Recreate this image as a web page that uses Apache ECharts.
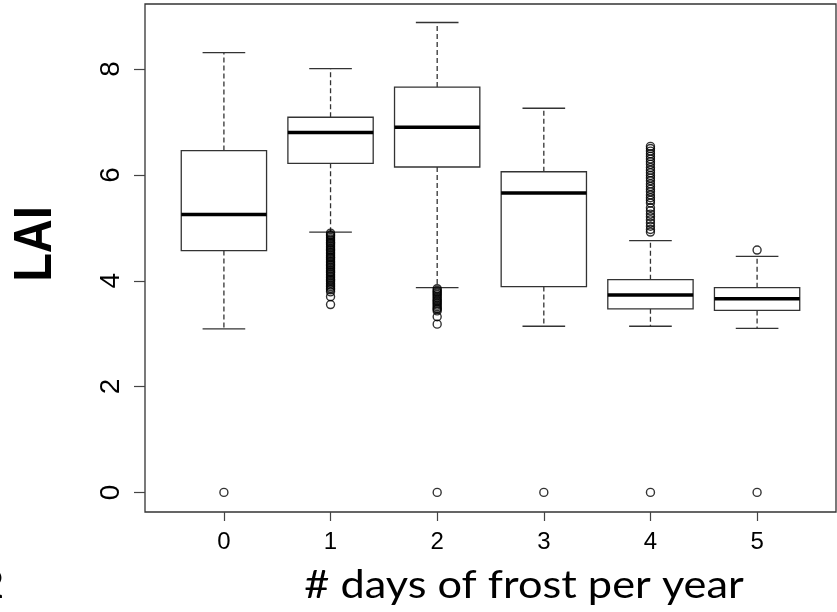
<!DOCTYPE html>
<html>
<head>
<meta charset="utf-8">
<script src="https://cdn.jsdelivr.net/npm/echarts@6/dist/echarts.min.js"></script>
<style>
  html, body { margin: 0; padding: 0; background: #fff; }
  #chart { width: 837px; height: 612px; }
</style>
</head>
<body>
<div id="chart"></div>
<script>
// frost days (x categories)
var categories = ['0', '1', '2', '3', '4', '5'];
var yTicks = [0, 2, 4, 6, 8];

// box stats: [lower whisker, Q1, median, Q3, upper whisker]
var boxStats = [
    [3.09, 4.57, 5.25, 6.46, 8.31],
    [4.92, 6.22, 6.80, 7.09, 8.01],
    [3.87, 6.15, 6.90, 7.66, 8.88],
    [3.14, 3.89, 5.66, 6.06, 7.26],
    [3.14, 3.47, 3.73, 4.02, 4.76],
    [3.10, 3.44, 3.66, 3.87, 4.46]
];

// outliers per box
var outliers0 = [0];
var outliers1 = [4.90, 4.87, 4.85, 4.82, 4.79, 4.76, 4.73, 4.71, 4.68, 4.65, 4.62, 4.59, 4.57,
    4.54, 4.51, 4.48, 4.45, 4.43, 4.40, 4.37, 4.34, 4.31, 4.29, 4.26, 4.23, 4.20, 4.17,
    4.15, 4.12, 4.09, 4.06, 4.03, 4.01, 3.98, 3.95, 3.92, 3.89, 3.86, 3.83, 3.79, 3.70, 3.55];
var outliers2 = [0, 3.85, 3.82, 3.79, 3.77, 3.74, 3.71, 3.68, 3.65, 3.62, 3.60, 3.57, 3.54,
    3.51, 3.48, 3.46, 3.43, 3.32, 3.18];
var outliers3 = [0];
var outliers4 = [0, 4.92, 4.97, 5.03, 5.09, 5.15, 5.21, 5.26, 5.32, 5.38, 5.47, 5.52, 5.57,
    5.62, 5.68, 5.73, 5.78, 5.83, 5.89, 5.94, 5.99, 6.04, 6.09, 6.14, 6.20, 6.25, 6.30,
    6.35, 6.40, 6.45, 6.50, 6.54];
var outliers5 = [0, 4.58];

var allOutliers = [outliers0, outliers1, outliers2, outliers3, outliers4, outliers5];

var boxData = boxStats.map(function (s, i) { return [i].concat(s); });
var outlierData = [];
allOutliers.forEach(function (list, i) {
    list.forEach(function (v) { outlierData.push([i, v]); });
});
var catIdx = categories.map(function (c, i) { return i; });

function renderBox(params, api) {
    var x = api.value(0);
    var lo = api.coord([x, api.value(1)]);
    var q1 = api.coord([x, api.value(2)]);
    var med = api.coord([x, api.value(3)]);
    var q3 = api.coord([x, api.value(4)]);
    var hi = api.coord([x, api.value(5)]);
    var w = api.size([0.8, 0])[0];
    var cx = lo[0];
    var dash = { stroke: '#333', lineWidth: 1.3, lineDash: [5, 3] };
    var solid = { stroke: '#333', lineWidth: 1.3 };
    return {
        type: 'group',
        children: [
            { type: 'line', shape: { x1: cx, y1: q3[1], x2: cx, y2: hi[1] }, style: dash },
            { type: 'line', shape: { x1: cx, y1: q1[1], x2: cx, y2: lo[1] }, style: dash },
            { type: 'line', shape: { x1: cx - w / 4, y1: hi[1], x2: cx + w / 4, y2: hi[1] }, style: solid },
            { type: 'line', shape: { x1: cx - w / 4, y1: lo[1], x2: cx + w / 4, y2: lo[1] }, style: solid },
            { type: 'rect', shape: { x: cx - w / 2, y: q3[1], width: w, height: q1[1] - q3[1] },
              style: { fill: '#fff', stroke: '#333', lineWidth: 1.3 } },
            { type: 'line', shape: { x1: cx - w / 2, y1: med[1], x2: cx + w / 2, y2: med[1] },
              style: { stroke: '#000', lineWidth: 3.5 } }
        ]
    };
}

var chart = echarts.init(document.getElementById('chart'));
var option = {
    animation: false,
    backgroundColor: '#fff',
    grid: {
        left: 145, top: 4, right: 1, bottom: 100,
        show: true, borderColor: '#333', borderWidth: 1.3, backgroundColor: 'transparent'
    },
    xAxis: {
        type: 'value',
        min: -0.74,
        max: 5.74,
        splitLine: { show: false },
        axisLine: { show: false, onZero: false },
        axisTick: { show: true, length: 9, customValues: catIdx, lineStyle: { color: '#444', width: 1.2 } },
        axisLabel: {
            customValues: catIdx,
            formatter: function (v) { return categories[Math.round(v)]; },
            fontFamily: 'Liberation Sans', fontSize: 24, color: '#000', margin: 18
        }
    },
    yAxis: {
        type: 'value',
        min: -0.37,
        max: 9.23,
        splitLine: { show: false },
        axisLine: { show: false, onZero: false },
        axisTick: { show: true, length: 11, customValues: yTicks, lineStyle: { color: '#444', width: 1.2 } },
        axisLabel: {
            customValues: yTicks,
            rotate: 90,
            fontFamily: 'Liberation Sans', fontSize: 28, color: '#000', margin: 20
        }
    },
    graphic: [
        {
            type: 'text', x: 36, y: 244, rotation: Math.PI / 2, scaleY: 1.13,
            style: { text: 'LAI', font: 'bold 47px "Liberation Sans"', fill: '#000',
                     textAlign: 'center', textVerticalAlign: 'middle' }
        },
        {
            type: 'text', x: 524, y: 586, scaleX: 1.14,
            style: { text: '# days of frost per year', font: '38px Lato', fill: '#000',
                     textAlign: 'center', textVerticalAlign: 'middle' }
        },
        {
            type: 'text', x: 4, y: 586,
            style: { text: '2', font: '38px Lato', fill: '#000',
                     textAlign: 'right', textVerticalAlign: 'middle' }
        }
    ],
    series: [
        {
            name: 'boxes',
            type: 'custom',
            renderItem: renderBox,
            encode: { x: 0, y: [1, 2, 3, 4, 5] },
            data: boxData,
            z: 2
        },
        {
            name: 'outliers',
            type: 'scatter',
            symbol: 'circle',
            symbolSize: 8,
            itemStyle: { color: 'rgba(0,0,0,0)', borderColor: '#000', borderWidth: 1.4 },
            data: outlierData,
            z: 3
        }
    ]
};
chart.setOption(option);
</script>
</body>
</html>
